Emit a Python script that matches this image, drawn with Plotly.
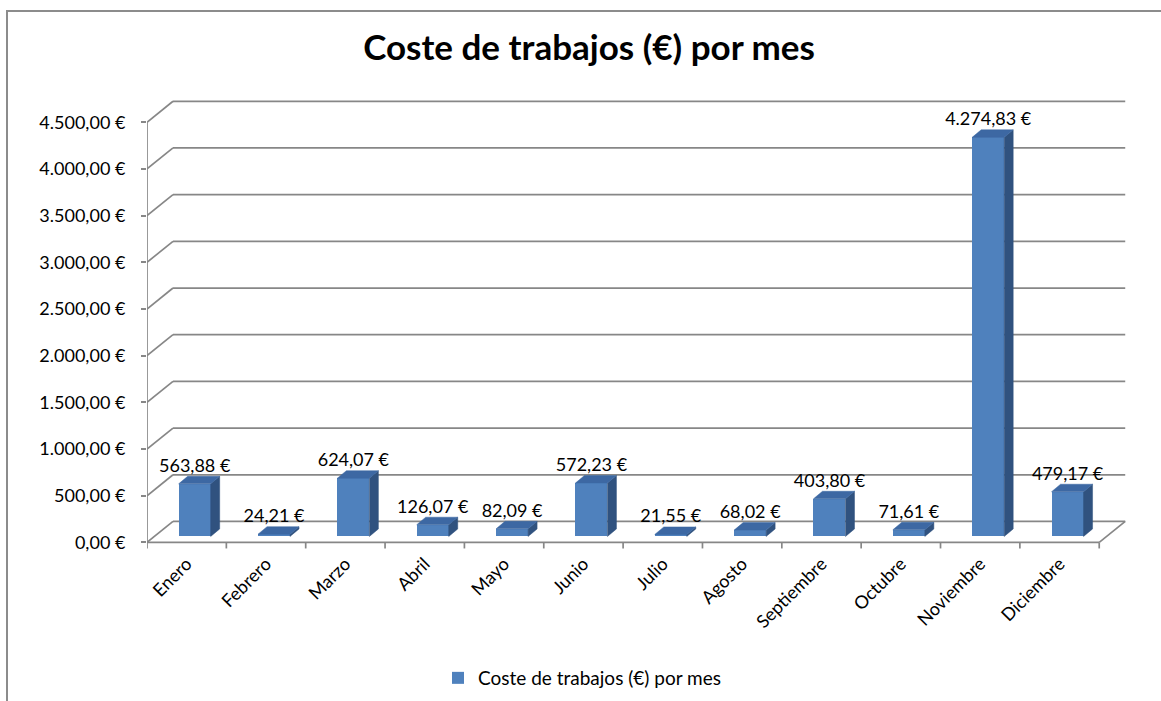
import plotly.graph_objects as go

# datos
meses = ["Enero", "Febrero", "Marzo", "Abril", "Mayo", "Junio", "Julio",
         "Agosto", "Septiembre", "Octubre", "Noviembre", "Diciembre"]
coste = [563.88, 24.21, 624.07, 126.07, 82.09, 572.23, 21.55,
         68.02, 403.80, 71.61, 4274.83, 479.17]
y_ticks = [0, 500, 1000, 1500, 2000, 2500, 3000, 3500, 4000, 4500]
serie = "Coste de trabajos (€) por mes"


def euro(v):
    s = f"{v:,.2f}".replace(",", "X").replace(".", ",").replace("X", ".")
    return s + " €"


W, H = 1161, 701
ML, MR, MT, MB = 147, 34, 98, 152
x_rng = [-0.5, 11.85]
y_rng = [-70, 4760]
pw, ph = W - ML - MR, H - MT - MB
px_x = pw / (x_rng[1] - x_rng[0])   # px por categoria
px_y = ph / (y_rng[1] - y_rng[0])   # px por euro

# profundidad del "3D" (en px -> unidades de datos)
wall_dx, wall_dy = 26 / px_x, 21 / px_y
bar_dx, bar_dy = 9 / px_x, 7.5 / px_y
bar_w = 32 / px_x
bar_shift = 8 / px_x
bar_base = 6 / px_y

GRID = "#878787"
FRONT, SIDE, TOP = "#4F81BD", "#30527F", "#3D68A3"
FONT = "Lato"
FS = 18

fig = go.Figure()

fig.add_trace(go.Bar(
    x=list(range(len(meses))), y=coste, base=bar_base,
    width=bar_w, offset=bar_shift - bar_w / 2,
    marker=dict(color=FRONT, line=dict(width=0)),
    name=serie, showlegend=True, hoverinfo="skip",
))

# caras laterales y superiores
sx, sy, tx, ty = [], [], [], []
for i, v in enumerate(coste):
    x0 = i + bar_shift - bar_w / 2
    x1 = x0 + bar_w
    b, t = bar_base, bar_base + v
    sx += [x1, x1 + bar_dx, x1 + bar_dx, x1, x1, None]
    sy += [b, b + bar_dy, t + bar_dy, t, b, None]
    tx += [x0, x0 + bar_dx, x1 + bar_dx, x1, x0, None]
    ty += [t, t + bar_dy, t + bar_dy, t, t, None]
fig.add_trace(go.Scatter(x=sx, y=sy, fill="toself", fillcolor=SIDE, mode="lines",
                         line=dict(width=0.5, color=SIDE), showlegend=False, hoverinfo="skip"))
fig.add_trace(go.Scatter(x=tx, y=ty, fill="toself", fillcolor=TOP, mode="lines",
                         line=dict(width=0.5, color=TOP), showlegend=False, hoverinfo="skip"))

# etiquetas de datos
fig.add_trace(go.Scatter(
    x=[i + bar_shift for i in range(len(meses))],
    y=[bar_base + v + bar_dy for v in coste],
    mode="text", text=[euro(v) for v in coste], textposition="top center",
    textfont=dict(family=FONT, size=FS, color="#000000"),
    showlegend=False, hoverinfo="skip",
))

# paredes, suelo, rejilla
shapes = []
x_lo, x_hi = -0.5, len(meses) - 0.5
lw = 1.7
for v in y_ticks:
    shapes.append(dict(type="line", xref="x", yref="y", layer="below",
                       x0=x_lo + wall_dx, x1=x_hi + wall_dx, y0=v + wall_dy, y1=v + wall_dy,
                       line=dict(color=GRID, width=lw)))
    shapes.append(dict(type="line", xref="x", yref="y", layer="below",
                       x0=x_lo, x1=x_lo + wall_dx, y0=v, y1=v + wall_dy,
                       line=dict(color=GRID, width=lw)))
# suelo frontal y lateral derecho
shapes.append(dict(type="line", xref="x", yref="y", layer="below",
                   x0=x_lo, x1=x_hi, y0=0, y1=0, line=dict(color=GRID, width=lw)))
shapes.append(dict(type="line", xref="x", yref="y", layer="below",
                   x0=x_hi, x1=x_hi + wall_dx, y0=0, y1=wall_dy, line=dict(color=GRID, width=lw)))
# eje vertical
shapes.append(dict(type="line", xref="x", yref="y", layer="below",
                   x0=x_lo, x1=x_lo, y0=0, y1=y_ticks[-1], line=dict(color=GRID, width=lw)))
# marcas del eje x en los limites
for k in range(len(meses) + 1):
    shapes.append(dict(type="line", xref="x", yref="y", layer="below",
                       x0=x_lo + k, x1=x_lo + k, y0=0, y1=-6 / px_y,
                       line=dict(color=GRID, width=lw)))
# marco del grafico
shapes.append(dict(type="rect", xref="paper", yref="paper",
                   x0=(7 - ML) / pw, x1=(W + 10 - ML) / pw,
                   y0=(H - MB - (H + 10)) / ph, y1=(H - MB - 11) / ph,
                   line=dict(color="#8c8c8c", width=2), fillcolor="rgba(0,0,0,0)"))

fig.update_layout(
    width=W, height=H,
    margin=dict(l=ML, r=MR, t=MT, b=MB),
    paper_bgcolor="white", plot_bgcolor="white",
    font=dict(family=FONT, size=FS, color="#000000"),
    title=dict(text="<b>Coste de trabajos (€) por mes</b>", xref="container", yref="container",
               x=589 / W, y=1 - 48 / H, xanchor="center", yanchor="middle",
               font=dict(family=FONT, size=35, color="#000000")),
    shapes=shapes,
    showlegend=True,
    legend=dict(orientation="h", xref="container", yref="container",
                x=438 / W, y=1 - 678 / H, xanchor="left", yanchor="middle",
                font=dict(family=FONT, size=19)),
    bargap=0,
)
fig.update_xaxes(range=x_rng, tickvals=list(range(len(meses))), ticktext=meses,
                 tickangle=-45, ticks="", showgrid=False, zeroline=False, showline=False,
                 tickfont=dict(family=FONT, size=FS))
fig.update_yaxes(range=y_rng, tickvals=y_ticks, ticktext=[euro(v) for v in y_ticks],
                 ticks="outside", ticklen=5, tickwidth=lw, tickcolor=GRID,
                 ticklabelstandoff=12, showgrid=False, zeroline=False, showline=False,
                 tickfont=dict(family=FONT, size=FS))

fig.write_html("out.html", config={"displayModeBar": False},
               post_script="document.body.style.margin='0';")
